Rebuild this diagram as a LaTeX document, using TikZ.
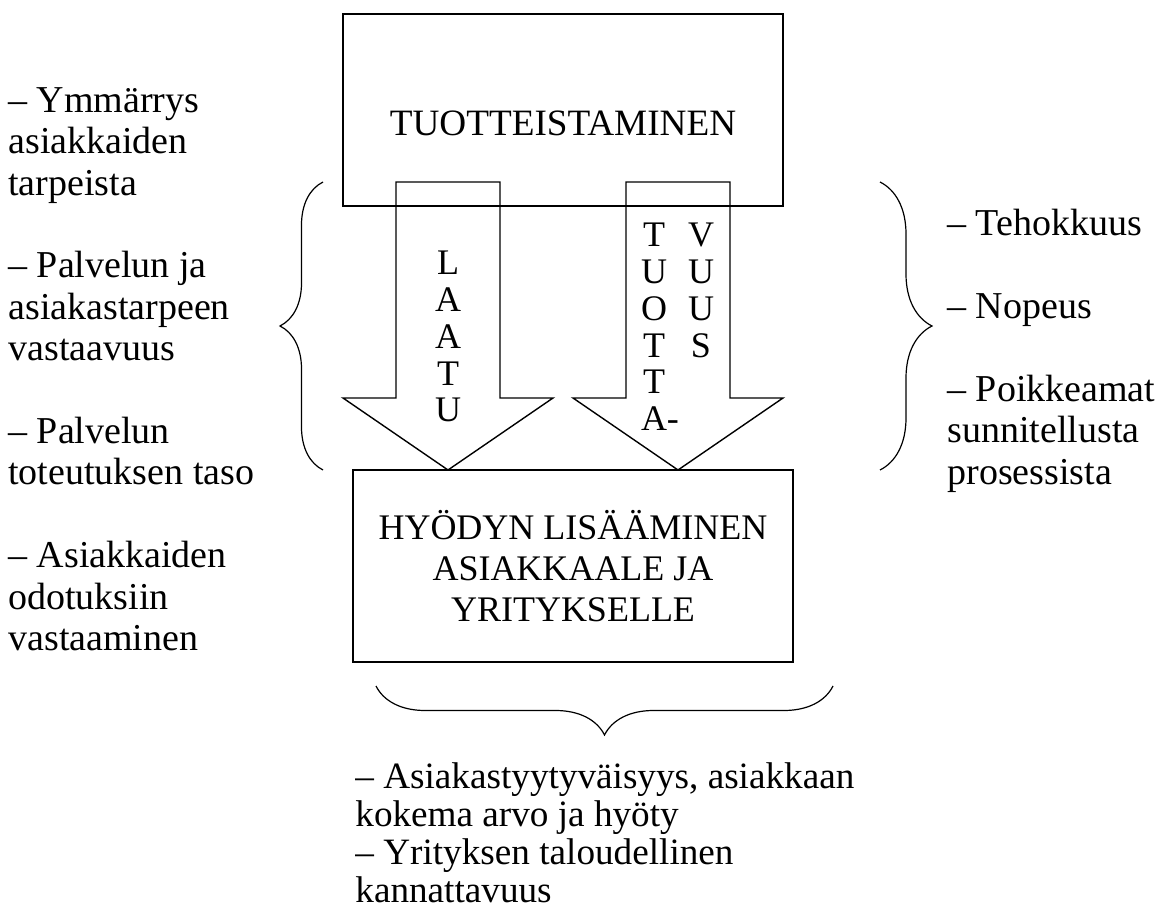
\documentclass[tikz,border=0pt]{standalone}
\usepackage{fontspec}
\setmainfont{Liberation Serif}
\usetikzlibrary{positioning, decorations.pathreplacing}

\begin{document}
\begin{tikzpicture}[x=0.5pt, y=-0.5pt,
  box/.style={draw, line width=1pt, minimum width=220pt, minimum height=96pt, inner sep=0pt},
  bigarrow/.style={draw, line width=0.7pt, line join=miter},
  brc/.style={decorate, decoration={brace, amplitude=#1}, line width=0.6pt},
  txt/.style={inner sep=0pt, font=\fontsize{19}{20.7}\selectfont, align=left},
  letters/.style={inner sep=0pt, font=\fontsize{18}{18.35}\selectfont, align=center}
]
  \useasboundingbox (0,0) rectangle (1157,908);

  % boxes
  \node[box] (prod) at (563,110) {};
  \node[txt, anchor=base, font=\fontsize{18.6}{20.7}\selectfont] (prodlbl) at (563,136) {TUOTTEISTAMINEN};
  \node[box, align=center, font=\fontsize{18}{20.7}\selectfont] (gain) at (573,566)
    {HYÖDYN LISÄÄMINEN\\ASIAKKAALE JA\\YRITYKSELLE};

  % block arrows
  \foreach \cx in {448,678}
    \draw[bigarrow] (\cx-52,182) -- ++(104,0) -- ++(0,216) -- ++(53,0)
      -- (\cx,470) -- ++(-105,-72) -- ++(53,0) -- cycle;
  \node[letters, anchor=north] (laatu) at (448,251) {L\\A\\A\\T\\U};
  \node[letters, anchor=north] (tuotta) at (654,223) {T\\U\\O\\T\\T\\A\rlap{-}};
  \node[letters, anchor=north] (vuus) at (701,223) {V\\U\\U\\S};

  % braces
  \draw[brc=21.5pt] (323,470) -- (323,182);
  \draw[brc=26pt] (880,182) -- (880,470);
  \draw[brc=24.5pt] (833,686) -- (376,686);

  % lists
  \node[txt, anchor=north west] (quality) at (8,87)
    {-- Ymmärrys\\asiakkaiden\\tarpeista\\[20.7pt]
     -- Palvelun ja\\asiakastarpeen\\vastaavuus\\[20.7pt]
     -- Palvelun\\toteutuksen taso\\[20.7pt]
     -- Asiakkaiden\\odotuksiin\\vastaaminen};
  \node[txt, anchor=north west] (productivity) at (947,209)
    {-- Tehokkuus\\[20.7pt]-- Nopeus\\[20.7pt]-- Poikkeamat\\sunnitellusta\\prosessista};
  \node[txt, anchor=north west, font=\fontsize{18.6}{19.1}\selectfont] (benefits) at (355,762)
    {-- Asiakastyytyväisyys, asiakkaan\\kokema arvo ja hyöty\\-- Yrityksen taloudellinen\\kannattavuus};
\end{tikzpicture}
\end{document}
